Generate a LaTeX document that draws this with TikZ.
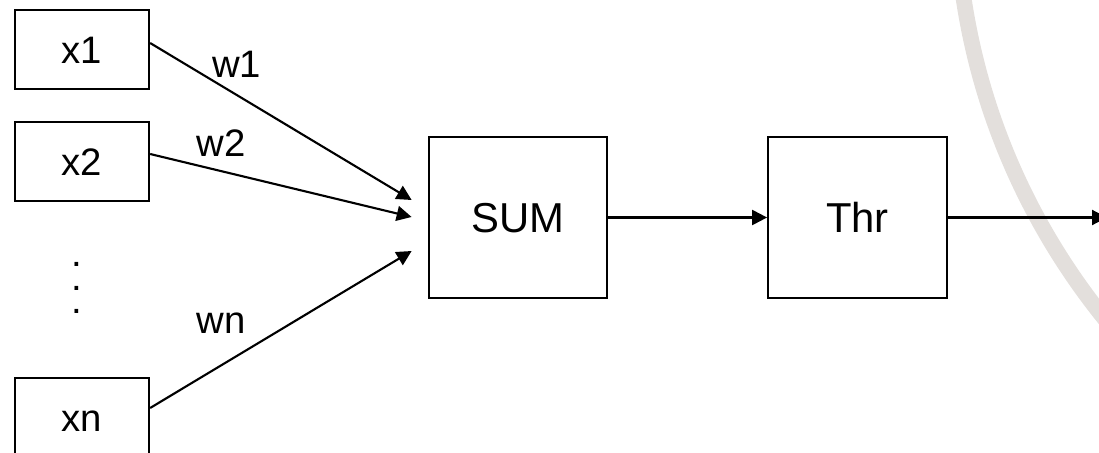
\documentclass[tikz,border=0pt]{standalone}
\usepackage{fontspec}
\setmainfont{Liberation Sans}
\usetikzlibrary{arrows.meta,calc}
\definecolor{arcgray}{RGB}{227,223,220}
\begin{document}
\begin{tikzpicture}[x=0.02cm,y=-0.02cm,
  small/.style={font=\fontsize{21.8pt}{26pt}\selectfont},
  big/.style={font=\fontsize{23.8pt}{28pt}\selectfont},
  inbox/.style={draw, line width=1.3pt, inner sep=0pt, small,
    minimum width=2.68cm, minimum height=1.58cm,
    text height=15.6pt, text depth=0pt},
  block/.style={draw, line width=1.3pt, inner sep=0pt, big,
    minimum width=3.57cm, minimum height=3.22cm,
    text height=17pt, text depth=0pt},
  wire/.style={line width=1.2pt, -{Triangle[length=8.5pt,width=8.5pt]}},
  lbl/.style={small, inner sep=0pt, anchor=base}]
  \useasboundingbox (0,0) rectangle (1099,453);
  \clip (0,0) rectangle (1099,453);

  % decorative arc in the background
  \draw[arcgray, line width=9pt] (1626,-102) circle[radius=13.4cm];

  % input boxes
  \node[inbox] (x1) at (82,49.5) {x1};
  \node[inbox] (x2) at (82,161.5) {x2};
  \node[inbox] (xn) at (82,417.5) {xn};

  % vertical ellipsis between x2 and xn
  \node[inner sep=0pt, align=center,
        font=\fontsize{21.8pt}{13.3pt}\selectfont] (dots) at (77,288) {.\\.\\.};

  % summation and threshold blocks
  \node[block] (sum) at (518,217.5) {SUM};
  \node[block] (thr) at (857.5,217.5) {Thr};
  \coordinate (out) at (1107,217.5);

  % weighted inputs
  \draw[wire] ($(x1.east)+(0,-6.5)$) -- ($(sum.west)+(-16,-17.5)$);
  \draw[wire] ($(x2.east)+(0,-7.5)$) -- ($(sum.west)+(-16,-0.5)$);
  \draw[wire] ($(xn.east)+(0,-9.5)$) -- ($(sum.west)+(-16,33.5)$);

  \node[lbl] (w1) at (236.5,77) {w1};
  \node[lbl] (w2) at (221,156) {w2};
  \node[lbl] (wn) at (221,333) {wn};

  % signal path to the output
  \draw[wire] (sum.east) -- (thr.west);
  \draw[wire] (thr.east) -- (out);
\end{tikzpicture}
\end{document}
